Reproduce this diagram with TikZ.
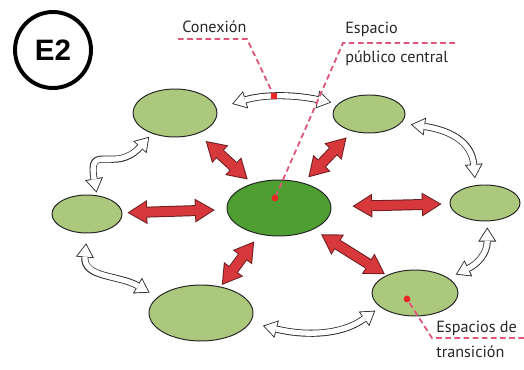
\documentclass[tikz,border=0pt]{standalone}
\usepackage{fontspec}
\setmainfont{PT Sans}
\newfontfamily\badgefont{Liberation Sans}
\usetikzlibrary{shapes.geometric,arrows.meta}

\definecolor{spacegreen}{RGB}{172,200,124}
\definecolor{centergreen}{RGB}{78,158,50}
\definecolor{arrowred}{RGB}{214,56,60}
\definecolor{arrowedge}{RGB}{110,28,30}
\definecolor{leaderpink}{RGB}{222,86,120}
\definecolor{dotred}{RGB}{232,38,38}

\begin{document}
\begin{tikzpicture}[
  space/.style={ellipse,draw=black!85,line width=0.7pt,fill=spacegreen,inner sep=0pt},
  tag/.style={anchor=base west,inner sep=0pt,text=black!85,font=\fontsize{11.5}{13}\selectfont},
  marker/.style={fill=dotred,inner sep=0pt,minimum size=0.17cm},
  leader/.style={draw=leaderpink,line width=1.3pt,dash pattern=on 4pt off 2.5pt},
  redlink/.style 2 args={draw=arrowedge,line width=7.8pt,
    {Triangle[length=14pt,width=17pt,line width=0pt]}-{Triangle[length=14pt,width=17pt,line width=0pt]},
    shorten <=#1,shorten >=#2,
    postaction={draw=arrowred,line width=6.4pt,
      {Triangle[length=11.95pt,width=14.5pt,line width=0pt]}-{Triangle[length=11.95pt,width=14.5pt,line width=0pt]},
      shorten <=#1+1.35pt,shorten >=#2+1.35pt}},
  whitelink/.style 2 args={draw=black!85,line width=5pt,
    {Triangle[length=10pt,width=12.8pt,line width=0pt]}-{Triangle[length=10pt,width=12.8pt,line width=0pt]},
    shorten <=#1,shorten >=#2,
    postaction={draw=white,line width=3.8pt,
      {Triangle[length=8.3pt,width=10.6pt,line width=0pt]}-{Triangle[length=8.3pt,width=10.6pt,line width=0pt]},
      shorten <=#1+1.1pt,shorten >=#2+1.1pt}}
]
  \useasboundingbox (0,0) rectangle (13.1,-9.25);

  % badge
  \node[circle,draw,line width=2.8pt,minimum size=1.9cm,
    font=\badgefont\bfseries\fontsize{21}{24}\selectfont] (badge) at (1.325,-1.25) {E2};

  % spaces
  \node[space,minimum width=2.1cm,minimum height=1.2cm] (tl) at (4.375,-2.825) {};
  \node[space,minimum width=1.8cm,minimum height=0.95cm] (tr) at (9.225,-2.85) {};
  \node[space,minimum width=1.75cm,minimum height=0.95cm] (l) at (2.175,-5.35) {};
  \node[space,fill=centergreen,minimum width=2.6cm,minimum height=1.4cm] (c) at (6.975,-5.2) {};
  \node[space,minimum width=1.75cm,minimum height=0.9cm] (r) at (12.125,-5.075) {};
  \node[space,minimum width=2.6cm,minimum height=1.4cm] (bl) at (5.025,-7.825) {};
  \node[space,minimum width=2.15cm,minimum height=1.15cm] (br) at (10.375,-7.325) {};

  % links to the central space
  \path (c) edge[redlink={4.3pt}{7.7pt}] (tl)
        (c) edge[redlink={5.3pt}{6pt}] (tr)
        (l) edge[redlink={3.6pt}{8.5pt}] (c)
        (c) edge[redlink={15pt}{5.7pt}] (r)
        (c) edge[redlink={6.2pt}{1.4pt}] (bl)
        (c) edge[redlink={6.4pt}{1.4pt}] (br);

  % links around the ring
  \path (tl.6) edge[whitelink={11.4pt}{4.8pt},out=17,in=168] (tr.162)
        (tl.222) edge[whitelink={3pt}{2pt},out=228,in=100,looseness=1.7] (l.62)
        (l.270) edge[whitelink={7pt}{6.4pt},out=265,in=150,looseness=1.2] (bl.160)
        (bl.349) edge[whitelink={9.2pt}{4.3pt},out=346,in=216] (br.202)
        (br.24) edge[whitelink={5.7pt}{4.3pt},out=26,in=270,looseness=1.2] (r.277)
        (r.118) edge[whitelink={5pt}{7pt},out=95,in=352,looseness=1.2] (tr.344);

  % labels
  \node[tag] (conx) at (4.55,-0.825) {Conexión};
  \node[tag] (esp) at (8.625,-0.85) {Espacio};
  \node[tag] (pub) at (8.625,-1.575) {público central};
  \node[tag] (espde) at (10.9,-8.325) {Espacios de};
  \node[tag] (trans) at (10.9,-8.95) {transición};

  \node[marker] (mk1) at (6.85,-2.4) {};
  \node[marker,circle] (mk2) at (6.875,-4.95) {};
  \node[marker,circle] (mk3) at (10.175,-7.475) {};

  \coordinate (k1) at (4.45,-0.975);
  \coordinate (k2) at (6.175,-0.975);
  \coordinate (k3) at (11.375,-1.075);
  \coordinate (k4) at (8.575,-1.075);
  \coordinate (k5) at (13.1,-8.45);
  \coordinate (k6) at (10.8,-8.45);
  \draw[leader] (k1) -- (k2) -- (mk1);
  \draw[leader] (k3) -- (k4) -- (mk2);
  \draw[leader] (k5) -- (k6) -- (mk3);
\end{tikzpicture}
\end{document}
